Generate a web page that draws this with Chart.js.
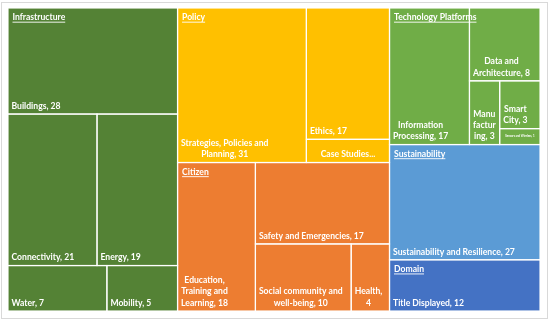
<!DOCTYPE html>
<html><head><meta charset="utf-8">
<style>html,body{margin:0;padding:0;background:#fff;overflow:hidden}canvas{display:block}</style>
<script src="https://cdn.jsdelivr.net/npm/chart.js@4.4.1/dist/chart.umd.min.js"></script>
</head><body>
<canvas id="c" width="550" height="322"></canvas>
<script>
// ---- data ----
const groupNames = ['Infrastructure', 'Policy', 'Citizen', 'Technology Platforms', 'Sustainability', 'Domain'];
const infrastructureLabels = ['Buildings', 'Connectivity', 'Energy', 'Water', 'Mobility'];
const infrastructureValues = [28, 21, 19, 7, 5];
const policyLabels = ['Strategies, Policies and Planning', 'Ethics', 'Case Studies'];
const policyValues = [31, 17, 3];
const citizenLabels = ['Education, Training and Learning', 'Safety and Emergencies', 'Social community and well-being', 'Health'];
const citizenValues = [18, 17, 10, 4];
const techLabels = ['Information Processing', 'Data and Architecture', 'Manufacturing', 'Smart City', 'Sensors and Wireless'];
const techValues = [17, 8, 3, 3, 1];
const sustainabilityLabels = ['Sustainability and Resilience'];
const sustainabilityValues = [27];
const domainLabels = ['Title Displayed'];
const domainValues = [12];
// labels that the original shows cut short
const truncatedLabels = ['Case Studies'];

// ---- styles ----
const groupColors = ['#548235', '#FFC000', '#ED7D31', '#70AD47', '#5B9BD5', '#4472C4'];
const FONT_FAMILY = 'Lato, "Open Sans", sans-serif';
const FONT_SIZE = 8.6;
const LINE_H = 11.3;

const groups = [
  {name: groupNames[0], labels: infrastructureLabels, values: infrastructureValues},
  {name: groupNames[1], labels: policyLabels, values: policyValues},
  {name: groupNames[2], labels: citizenLabels, values: citizenValues},
  {name: groupNames[3], labels: techLabels, values: techValues},
  {name: groupNames[4], labels: sustainabilityLabels, values: sustainabilityValues},
  {name: groupNames[5], labels: domainLabels, values: domainValues}
];
groups.forEach(g => g.total = g.values.reduce((a, b) => a + b, 0));

// squarified layout in value space; k = pixel aspect factor
function squarify(vals, rect, k) {
  const order = vals.map((v, i) => i).sort((a, b) => vals[b] - vals[a]);
  const out = new Array(vals.length);
  let {x, y, w, h} = rect;
  let rest = order.slice();
  let restSum = rest.reduce((s, i) => s + vals[i], 0);
  function worst(row, wide) {
    const s = row.reduce((a, i) => a + vals[i], 0);
    let m = 0;
    row.forEach(i => {
      let cw, ch;
      if (wide) { cw = w * s / restSum * k; ch = h * vals[i] / s; }
      else { cw = w * vals[i] / s * k; ch = h * s / restSum; }
      m = Math.max(m, cw / ch, ch / cw);
    });
    return m;
  }
  while (rest.length) {
    const wide = w * k >= h;
    let row = [rest[0]];
    let cur = worst(row, wide);
    let n = 1;
    while (n < rest.length) {
      const cand = row.concat([rest[n]]);
      const nw = worst(cand, wide);
      if (nw < cur * 0.89) { row = cand; cur = nw; n++; } else break;
    }
    const s = row.reduce((a, i) => a + vals[i], 0);
    if (wide) {
      const cw = w * s / restSum;
      let yy = y;
      row.forEach(i => { const ch = h * vals[i] / s; out[i] = {x: x, y: yy, w: cw, h: ch}; yy += ch; });
      x += cw; w -= cw;
    } else {
      const ch = h * s / restSum;
      let xx = x;
      row.forEach(i => { const cw = w * vals[i] / s; out[i] = {x: xx, y: y, w: cw, h: ch}; xx += cw; });
      y += ch; h -= ch;
    }
    rest = rest.slice(n);
    restSum -= s;
  }
  return out;
}

function wrapText(ctx, text, maxW) {
  const words = text.split(' ');
  const lines = [];
  let line = '';
  function splitWord(wd) {
    if (ctx.measureText(wd).width <= maxW) return [wd];
    const parts = []; let p = '';
    for (const ch of wd) {
      if (p && ctx.measureText(p + ch).width > maxW) { parts.push(p); p = ch; } else p += ch;
    }
    if (p) parts.push(p);
    return parts;
  }
  for (const wd of words) {
    const test = line ? line + ' ' + wd : wd;
    if (ctx.measureText(test).width <= maxW) { line = test; continue; }
    if (line) lines.push(line);
    const parts = splitWord(wd);
    for (let i = 0; i < parts.length - 1; i++) lines.push(parts[i]);
    line = parts[parts.length - 1];
  }
  if (line) lines.push(line);
  return lines;
}

const treemapPlugin = {
  id: 'treemap',
  afterDatasetsDraw(chart) {
    const {ctx, chartArea, scales} = chart;
    const xs = scales.x, ys = scales.y;
    const k = chartArea.width / chartArea.height;
    const top = squarify(groups.map(g => g.total), {x: 0, y: 0, w: 1, h: 1}, k);
    const px = r => {
      const x0 = xs.getPixelForValue(r.x), x1 = xs.getPixelForValue(r.x + r.w);
      const y0 = ys.getPixelForValue(r.y), y1 = ys.getPixelForValue(r.y + r.h);
      return {x: x0, y: y0, w: x1 - x0, h: y1 - y0};
    };
    ctx.save();
    const texts = [];
    groups.forEach((g, gi) => {
      const gr = top[gi];
      const leaves = squarify(g.values, gr, k);
      leaves.forEach((lr, li) => {
        const p = px(lr);
        ctx.fillStyle = groupColors[gi];
        ctx.fillRect(p.x, p.y, p.w, p.h);
        texts.push({p, label: g.labels[li], value: g.values[li]});
      });
      texts.push({group: true, p: px(gr), label: g.name});
    });
    ctx.strokeStyle = 'rgba(255,255,255,0.95)';
    ctx.lineWidth = 1.2;
    texts.forEach(t => { if (!t.group) ctx.strokeRect(t.p.x, t.p.y, t.p.w, t.p.h); });
    ctx.fillStyle = '#ffffff';
    ctx.textBaseline = 'middle';
    texts.forEach(t => {
      const p = t.p;
      if (t.group) {
        ctx.font = `bold ${FONT_SIZE}px ${FONT_FAMILY}`;
        ctx.textAlign = 'left';
        const tx = p.x + 4.5, ty = p.y + 9.5;
        ctx.fillText(t.label, tx, ty);
        const tw = ctx.measureText(t.label).width;
        ctx.fillRect(tx, ty + 4.2, tw, 0.9);
        return;
      }
      let text = t.label + ', ' + t.value;
      let size = FONT_SIZE, lh = LINE_H;
      ctx.font = `bold ${size}px ${FONT_FAMILY}`;
      const maxW = p.w - 6;
      let lines = wrapText(ctx, text, maxW);
      let centered = false;
      if (truncatedLabels.includes(t.label)) {
        lines = [t.label + '...'];
        centered = true;
      } else if (lines.length * lh + 4 > p.h) {
        size = 2.8; lh = 3;
        ctx.font = `bold ${size}px ${FONT_FAMILY}`;
        lines = [text];
        centered = true;
      }
      ctx.font = `bold ${size}px ${FONT_FAMILY}`;
      const bw = Math.max(...lines.map(l => ctx.measureText(l).width));
      const bottom = p.y + p.h - 8;
      ctx.textAlign = 'center';
      lines.forEach((l, i) => {
        const ly = bottom - (lines.length - 1 - i) * lh;
        const c = centered ? p.x + p.w / 2 : p.x + 3.5 + bw / 2;
        ctx.fillText(l, c, ly);
      });
    });
    ctx.restore();
  }
};

const framePlugin = {
  id: 'frame',
  beforeDraw(chart) {
    const ctx = chart.ctx;
    ctx.save();
    ctx.fillStyle = '#fff';
    ctx.fillRect(0, 0, chart.width, chart.height);
    ctx.strokeStyle = '#d9d9d9';
    ctx.lineWidth = 1;
    ctx.strokeRect(1.5, 2.5, 546, 316);
    ctx.restore();
  }
};

new Chart(document.getElementById('c'), {
  type: 'scatter',
  data: {datasets: [{data: []}]},
  options: {
    responsive: false,
    animation: false,
    layout: {padding: {left: 8, top: 8, right: 10, bottom: 11}},
    plugins: {legend: {display: false}, tooltip: {enabled: false}},
    scales: {
      x: {type: 'linear', min: 0, max: 1, display: false},
      y: {type: 'linear', min: 0, max: 1, reverse: true, display: false}
    }
  },
  plugins: [framePlugin, treemapPlugin]
});
</script>
</body></html>
